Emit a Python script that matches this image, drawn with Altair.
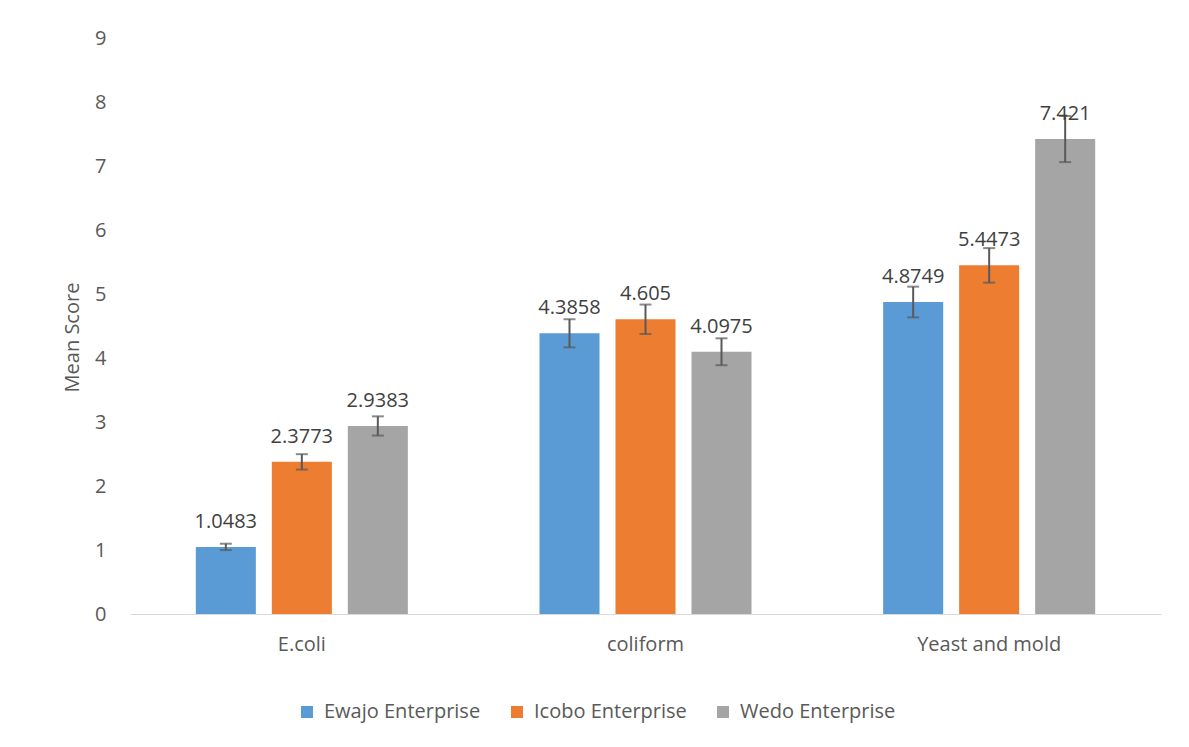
import altair as alt
import pandas as pd

categories = ["E.coli", "coliform", "Yeast and mold"]
series = ["Ewajo Enterprise", "Icobo Enterprise", "Wedo Enterprise"]
colors = ["#5B9BD5", "#ED7D31", "#A5A5A5"]

ewajo = [1.0483, 4.3858, 4.8749]
icobo = [2.3773, 4.605, 5.4473]
wedo = [2.9383, 4.0975, 7.421]
ewajo_labels = ["1.0483", "4.3858", "4.8749"]
icobo_labels = ["2.3773", "4.605", "5.4473"]
wedo_labels = ["2.9383", "4.0975", "7.421"]
ewajo_err = [0.05, 0.22, 0.24]
icobo_err = [0.12, 0.23, 0.27]
wedo_err = [0.15, 0.21, 0.36]

rows = []
for s, vals, labs, errs in [
    (series[0], ewajo, ewajo_labels, ewajo_err),
    (series[1], icobo, icobo_labels, icobo_err),
    (series[2], wedo, wedo_labels, wedo_err),
]:
    for c, v, l, e in zip(categories, vals, labs, errs):
        rows.append({"category": c, "series": s, "value": v, "label": l,
                     "lo": v - e, "hi": v + e})
df = pd.DataFrame(rows)

FONT = "Open Sans"
TXT = "#595959"

x_enc = alt.X("category:N", sort=categories,
              scale=alt.Scale(paddingInner=0, paddingOuter=0),
              axis=alt.Axis(title=None, labelAngle=0, ticks=False,
                            domainColor="#D9D9D9", domainWidth=1,
                            labelFontSize=20, labelColor=TXT, labelFont=FONT,
                            labelPadding=20))
xoff = alt.XOffset("series:N", sort=series,
                   scale=alt.Scale(paddingInner=0.21, paddingOuter=0.866))

base = alt.Chart(df).encode(x=x_enc, xOffset=xoff)

bars = base.mark_bar().encode(
    y=alt.Y("value:Q", scale=alt.Scale(domain=[0, 9]),
            axis=alt.Axis(title="Mean Score", values=list(range(10)),
                          format="d",
                          grid=False, domain=False, ticks=False,
                          labelFontSize=20, labelColor=TXT, labelFont=FONT,
                          labelPadding=24, titleFontSize=20,
                          titleColor=TXT, titleFont=FONT,
                          titleFontWeight="normal",
                          titleX=-58, titleY=299, titleAngle=-90,
                          titleAlign="center", titleBaseline="middle")),
    color=alt.Color("series:N", sort=series,
                    scale=alt.Scale(domain=series, range=colors),
                    legend=alt.Legend(title=None, orient="none",
                                      direction="horizontal",
                                      legendX=167, legendY=664,
                                      symbolType="square", symbolSize=144,
                                      symbolStrokeWidth=0,
                                      labelFontSize=20, labelColor=TXT,
                                      labelFont=FONT, labelOffset=7,
                                      columnPadding=26)),
)

stems = base.mark_rule(color=TXT, strokeWidth=2).encode(
    y="lo:Q", y2="hi:Q")
cap_lo = base.mark_tick(color=TXT, size=12, thickness=2,
                        orient="horizontal").encode(y="lo:Q")
cap_hi = base.mark_tick(color=TXT, size=12, thickness=2,
                        orient="horizontal").encode(y="hi:Q")

labels = base.mark_text(font=FONT, fontSize=20, color="#404040",
                        baseline="middle", dy=-25).encode(
    y="value:Q", text="label:N")

chart = alt.layer(bars, stems, cap_lo, cap_hi, labels).properties(
    width=1031, height=576,
    autosize=alt.AutoSizeParams(type="none"),
    padding={"left": 122, "top": 30, "right": 20, "bottom": 110},
).configure(background="white").configure_view(stroke=None, strokeWidth=0)

chart.save("out.html", embed_options={"renderer": "svg", "actions": False})
